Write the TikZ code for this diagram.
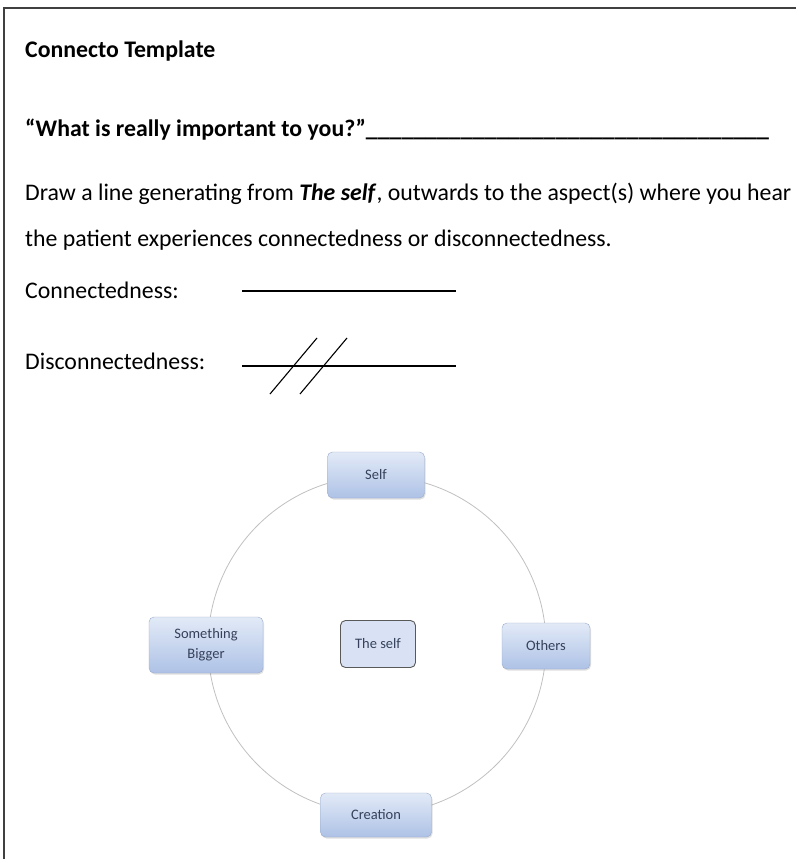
\documentclass[tikz,border=0pt]{standalone}
\usepackage{fontspec}
\setmainfont{Carlito}
\usepackage{tikz}
\usetikzlibrary{shadows}

\definecolor{boxtop}{HTML}{E2EAF7}
\definecolor{boxbot}{HTML}{AEC2E6}
\definecolor{boxline}{HTML}{9AABCA}
\definecolor{boxtext}{HTML}{36405A}
\definecolor{ringgray}{HTML}{C0C0C0}

\newcommand{\docsize}{\fontsize{23.8}{28}\selectfont}

\tikzset{
    txt/.style={anchor=base west, inner sep=0pt, font=\docsize},
    aspect/.style={draw=boxline, rounded corners=5pt, top color=boxtop, bottom color=boxbot,
        text=boxtext, font=\fontsize{14.5}{17}\selectfont, align=center, inner sep=0pt,
        drop shadow={opacity=0.25, shadow xshift=1pt, shadow yshift=-1.5pt}},
    core/.style={draw=black!65, rounded corners=5pt, fill=boxtop!80!boxbot, text=boxtext,
        font=\fontsize{14.5}{17}\selectfont, inner sep=0pt, line width=0.9pt}
}

\begin{document}
\begin{tikzpicture}[x=1pt, y=-1pt]
        \useasboundingbox (0,0) rectangle (796,859);
        % frame (only top and left edge visible)
        \draw[line width=2pt, black!75] (4,859) -- (4,8) -- (796,8);
        % text block
        \node[txt, font=\docsize\bfseries] (title) at (25,57) {Connecto Template};
        \node[txt, font=\docsize\bfseries] (question) at (25,136)
            {“What is really important to you?”\_\_\_\_\_\_\_\_\_\_\_\_\_\_\_\_\_\_\_\_\_\_\_\_\_\_\_\_\_\_\_\_\_\_};
        \node[txt] (instrA) at (25,200) {Draw a line generating from \textbf{\textit{The self}}, outwards to the aspect(s) where you hear};
        \node[txt] (instrB) at (25,246) {the patient experiences connectedness or disconnectedness.};
        \node[txt] (conlabel) at (25,298) {Connectedness:};
        \node[txt] (dislabel) at (25,369) {Disconnectedness:};
        % legend lines
        \coordinate (conA) at (242,291);
        \coordinate (conB) at (456,291);
        \coordinate (disA) at (242,366);
        \coordinate (disB) at (456,366);
        \draw[line width=1.1pt] (conA) -- (conB);
        \draw[line width=1.1pt] (disA) -- (disB);
        \foreach \dx in {0,30}
            \draw[line width=1.1pt] (270+\dx,394) -- (317+\dx,338);
        % ring of aspects
        \coordinate (hub) at (377,645);
        \draw[ringgray, line width=0.8pt] (hub) circle (169);
        \node[aspect, minimum width=97pt, minimum height=46pt] (self) at (376,475) {Self};
        \node[aspect, minimum width=114pt, minimum height=56pt] (bigger) at (206,645) {Something\\[3pt]Bigger};
        \node[aspect, minimum width=88pt, minimum height=46pt] (others) at (546,646) {Others};
        \node[aspect, minimum width=111pt, minimum height=44pt] (creation) at (376,815) {Creation};
        \node[core, minimum width=75pt, minimum height=47pt] (theself) at (378,644) {The self};
    \end{tikzpicture}
\end{document}
